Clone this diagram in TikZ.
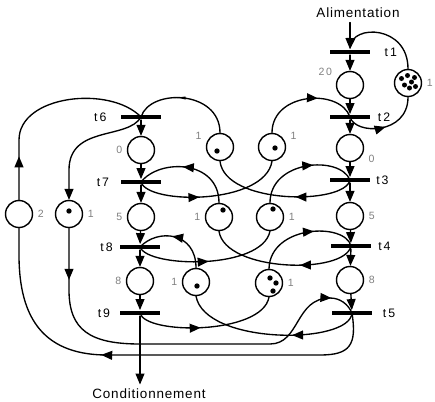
\documentclass[tikz,border=0pt]{standalone}
\usepackage{fontspec}
\setmainfont{Liberation Sans}
\newfontfamily\widefont[LetterSpace=6]{Liberation Sans}
\usetikzlibrary{arrows,decorations.markings}

\tikzset{
  place/.style={circle,draw,line width=1.2pt,minimum size=8.1mm,inner sep=0pt},
  trans/.style={rectangle,fill=black,minimum width=12mm,minimum height=1.4mm,inner sep=0pt},
  tlab/.style={font=\fontsize{10.5}{12}\selectfont},
  plab/.style={text=black!50,font=\fontsize{9}{10}\selectfont},
  iolab/.style={font={\widefont\fontsize{11.5}{13}\selectfont}},
  arcmark/.style={postaction={decorate,decoration={markings,mark=at position #1 with {\arrow{>}}}}},
  flatmark/.style={postaction={decorate,decoration={markings,mark=at position #1 with {\fill (3pt,0) -- (-4pt,1.3pt) -- (-4pt,-1.3pt) -- cycle;}}}}
}

\begin{document}
\begin{tikzpicture}[line cap=round,line join=round,>=triangle 45,x=0.3mm,y=-0.3mm,line width=1.15pt]
      \useasboundingbox (0,0) rectangle (435,401);

      % right line
      \node[iolab] (alim) at (358,13) {Alimentation};
      \node[trans,label={[tlab,label distance=2.8mm]right:t\,1}] (tr1) at (350,52) {};
      \node[place,label={[plab]160:2\,0}] (R20) at (350,85) {};
      \node[trans,label={[tlab,label distance=0.8mm]right:t\,2}] (tr2) at (350,117) {};
      \node[place,label={[plab]-10:0}] (R0) at (350,148) {};
      \node[trans,label={[tlab,label distance=0.3mm]right:t\,3}] (tr3) at (350,180) {};
      \node[place,label={[plab]right:5}] (R5) at (350,216) {};
      \node[trans,label={[tlab,label distance=0.6mm]right:t\,4}] (tr4) at (351,246) {};
      \node[place,label={[plab]right:8}] (R8) at (350,280) {};
      \node[trans,label={[tlab,label distance=1.7mm]right:t\,5}] (tr5) at (352,313) {};

      % left line
      \node[trans,label={[tlab,label distance=2.8mm]left:t\,6}] (tl6) at (141,117) {};
      \node[place,label={[plab]left:0}] (L0) at (141,150) {};
      \node[trans,label={[tlab,label distance=2mm]left:t\,7}] (tl7) at (141,182) {};
      \node[place,label={[plab]left:5}] (L5) at (141,217) {};
      \node[trans,label={[tlab,label distance=0.6mm]left:t\,8}] (tl8) at (140,247) {};
      \node[place,label={[plab]left:8}] (L8) at (140,281) {};
      \node[trans,label={[tlab,label distance=1.4mm]left:t\,9}] (tl9) at (140,313) {};
      \node[iolab] (cond) at (149,394) {Conditionnement};

      % shared places
      \node[place,label={[plab]right:1}] (S) at (408,83) {};
      \node[place,label={[plab]170:1}] (MA) at (220,147) {};
      \node[place,label={[plab]10:1}] (MB) at (272,147) {};
      \node[place,label={[plab]left:1}] (MC) at (219,217) {};
      \node[place,label={[plab]right:1}] (MD) at (270,217) {};
      \node[place,label={[plab]left:1}] (ME) at (196,282) {};
      \node[place,label={[plab]right:1}] (MF) at (269,283) {};
      \node[place,label={[plab]right:2}] (P2) at (19,214) {};
      \node[place,label={[plab]right:1}] (P1L) at (69,214) {};

      % tokens
      \foreach \p in {(401.5,78.5),(407.5,75.5),(414.5,77.5),(411.5,82),(404.5,85),(409.5,88),(415.5,86.5)}
        \fill \p circle (0.75mm);
      \foreach \p in {(217,151),(275,148),(223,210),(273,209),(197,286),(270,278),(276,283),(273,291),(69,211)}
        \fill \p circle (0.8mm);

      % columns
      \draw[->] (alim.south -| tr1) -- (tr1.north);
      \foreach \a/\b in {tr1/R20,R20/tr2,tr2/R0,R0/tr3,tr3/R5,R5/tr4,tr4/R8,R8/tr5,
                         tl6/L0,L0/tl7,tl7/L5,L5/tl8,tl8/L8,L8/tl9}
        \draw[->] (\a) -- (\b);
      \draw[->] (tl9) -- (tl9 |- cond.north);

      % resource of t1/t2
      \draw[->] (S.north) .. controls (408,25) and (352,24) .. (tr1.north);
      \draw[arcmark=0.5] (tr2.center) .. controls (355,135) and (408,135) .. (S.south);

      % crossing arcs
      \draw[flatmark=0.55] (MA.north) .. controls (220,90) and (150,88) .. (tl6.center);
      \draw[arcmark=0.4] (tr3.center) .. controls (345,205) and (225,205) .. (MA.south);
      \draw[arcmark=0.62] (MB.north) .. controls (272,92) and (340,88) .. (tr2.center);
      \draw[arcmark=0.42] (tl7.center) .. controls (148,205) and (265,205) .. (MB.south);
      \draw[arcmark=0.55] (MC.north) .. controls (219,160) and (160,158) .. (tl7.center);
      \draw[arcmark=0.38] (tr4.center) .. controls (345,275) and (225,272) .. (MC.south);
      \draw[arcmark=0.6] (MD.north) .. controls (270,160) and (340,155) .. (tr3.center);
      \draw[arcmark=0.5] (tl8.center) .. controls (148,268) and (262,270) .. (MD.south);
      \draw[arcmark=0.55] (ME.north) .. controls (196,232) and (158,228) .. (tl8.center);
      \draw[arcmark=0.38] (tr5.center) .. controls (350,345) and (205,345) .. (ME.south);
      \draw[arcmark=0.6] (MF.north) .. controls (270,225) and (345,222) .. (tr4.center);
      \draw[arcmark=0.45] (tl9.center) .. controls (145,335) and (262,335) .. (MF.south);

      % outer loops
      \draw[arcmark=0.21] (P2.north) -- (19,140) .. controls (19,95) and (110,85) .. (tl6.center);
      \draw[->] (tl6.center) .. controls (128,140) and (69,125) .. (69,170) -- (P1L.north);
      \draw[arcmark=44pt,arcmark=-23pt] (P1L.south) -- (69,290) .. controls (69,330) and (90,344) .. (140,344)
                -- (270,344) .. controls (300,344) and (295,298) .. (330,298)
                .. controls (340,298) and (348,304) .. (tr5.center);
      \draw[arcmark=0.62] (tr5.center) .. controls (357,345) and (350,355) .. (320,355) -- (110,355)
                .. controls (45,356) and (19,320) .. (19,255) -- (P2.south);
\end{tikzpicture}
\end{document}
